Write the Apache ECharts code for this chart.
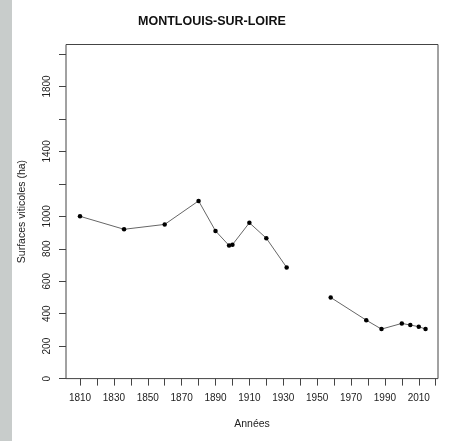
<!DOCTYPE html>
<html>
<head>
<meta charset="utf-8">
<script src="https://cdn.jsdelivr.net/npm/echarts@6/dist/echarts.min.js"></script>
<style>
  html, body { margin: 0; padding: 0; background: #fff; }
  #band { position: absolute; left: 0; top: 0; width: 12px; height: 441px; background: #c8cccb; }
  #chart { width: 456px; height: 441px; }
</style>
</head>
<body>
<div id="band"></div>
<div id="chart"></div>
<script>
  // surfaces viticoles (null = trou dans la courbe)
  var years = [1810, 1836, 1860, 1880, 1890, 1898, 1900, 1910, 1920, 1932, 1945, 1958, 1979, 1988, 2000, 2005, 2010, 2014]
  var surfaces = [1000, 920, 950, 1095, 910, 820, 825, 960, 865, 685, null, 500, 360, 305, 340, 330, 320, 305]
  var yLabels = [0, 200, 400, 600, 800, 1000, 1400, 1800]

  var font = 'Liberation Sans, Arial, sans-serif'
  var chart = echarts.init(document.getElementById('chart'))

  chart.setOption({
    animation: false,
    title: {
      text: 'MONTLOUIS-SUR-LOIRE',
      left: 133,
      top: 10,
      textStyle: { fontFamily: font, fontSize: 12.5, fontWeight: 'bold', color: '#111' }
    },
    grid: [
      // cadre du graphique
      { left: 66, right: 18, top: 44.5, bottom: 62.4, show: true, borderColor: '#444', borderWidth: 1, backgroundColor: 'transparent' },
      // zone des données
      { left: 80, right: 20.3, top: 54, bottom: 62.4 }
    ],
    xAxis: [
      {
        gridIndex: 0, type: 'value', min: 0, max: 1,
        axisLine: { show: false }, axisTick: { show: false }, axisLabel: { show: false }, splitLine: { show: false },
        name: 'Années', nameLocation: 'middle', nameGap: 40,
        nameTextStyle: { fontFamily: font, fontSize: 10.5, color: '#222' }
      },
      {
        gridIndex: 1, type: 'value', min: 1810, max: 2020, interval: 10,
        axisLine: { show: false },
        axisTick: { show: true, length: 7, lineStyle: { color: '#444' } },
        axisLabel: {
          fontFamily: font, fontSize: 10, color: '#222', margin: 15,
          formatter: function (v) { return (v - 1810) % 20 === 0 && v < 2020 ? v : '' }
        },
        splitLine: { show: false }
      }
    ],
    yAxis: [
      {
        gridIndex: 0, type: 'value', min: 0, max: 1,
        axisLine: { show: false }, axisTick: { show: false }, axisLabel: { show: false }, splitLine: { show: false },
        name: 'Surfaces viticoles (ha)', nameLocation: 'middle', nameGap: 38,
        nameTextStyle: { fontFamily: font, fontSize: 10.5, color: '#222' }
      },
      {
        gridIndex: 1, type: 'value', min: 0, max: 2000, interval: 200, offset: 14,
        axisLine: { show: false },
        axisTick: { show: true, length: 7, lineStyle: { color: '#444' } },
        axisLabel: {
          fontFamily: font, fontSize: 10, color: '#222', rotate: 90, margin: 14,
          formatter: function (v) { return yLabels.indexOf(v) >= 0 ? v : '' }
        },
        splitLine: { show: false }
      }
    ],
    series: [
      {
        type: 'line',
        xAxisIndex: 1,
        yAxisIndex: 1,
        data: years.map(function (y, i) { return [y, surfaces[i]] }),
        connectNulls: false,
        symbol: 'circle',
        symbolSize: 4.5,
        itemStyle: { color: '#000' },
        lineStyle: { color: '#666', width: 1 }
      }
    ]
  })
</script>
</body>
</html>
